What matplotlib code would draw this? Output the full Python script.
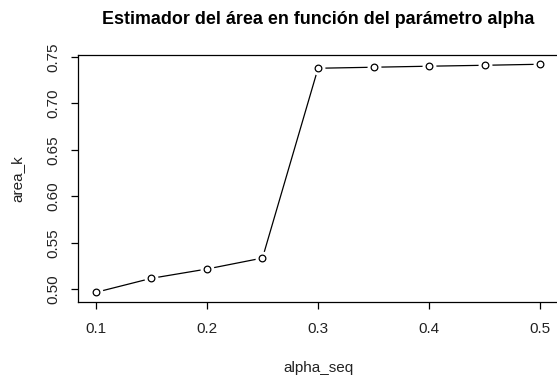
#
# Imports
#
from matplotlib import pyplot as plt
import numpy as np

#
# Data
#
alpha_seq = [0.10, 0.15, 0.20, 0.25, 0.30, 0.35, 0.40, 0.45, 0.50]
area_k = [0.4968, 0.5119, 0.5219, 0.5337, 0.7377, 0.7388, 0.7399, 0.7409, 0.7420]
x_ticks = [0.1, 0.2, 0.3, 0.4, 0.5]
y_ticks = [0.50, 0.55, 0.60, 0.65, 0.70, 0.75]

#
# main
#
if __name__ == "__main__":
    plt.rcParams['font.family'] = ['Liberation Sans', 'DejaVu Sans']
    txt = '#222222'
    fig = plt.figure(figsize=(5.57, 3.75), dpi=100)
    ax = fig.add_axes([0.140, 0.196, 0.862, 0.657])

    # R style "b": line with gaps round the points
    ax.plot(alpha_seq, area_k, '-', color='black', lw=0.9, zorder=1)
    ax.plot(alpha_seq, area_k, 'o', ms=10, mfc='white', mec='none', zorder=2)
    ax.plot(alpha_seq, area_k, 'o', ms=4.8, mfc='white', mec='black', mew=0.9, zorder=3)

    # R default axis extension (4%)
    xr = max(alpha_seq) - min(alpha_seq)
    yr = max(area_k) - min(area_k)
    ax.set_xlim(min(alpha_seq) - 0.04 * xr, max(alpha_seq) + 0.04 * xr)
    ax.set_ylim(min(area_k) - 0.04 * yr, max(area_k) + 0.04 * yr)

    ax.set_xticks(x_ticks)
    ax.set_xticklabels(['0.1', '0.2', '0.3', '0.4', '0.5'])
    ax.set_yticks(y_ticks)
    ax.set_yticklabels(['%.2f' % v for v in y_ticks], rotation=90, va='center')
    ax.tick_params(direction='out', length=5, width=0.9, labelsize=11,
                   color='black', labelcolor=txt, pad=8)
    ax.tick_params(axis='x', pad=10)
    for s in ax.spines.values():
        s.set_linewidth(0.9)

    ax.set_xlabel('alpha_seq', fontsize=11, color=txt, labelpad=18)
    ax.set_ylabel('area_k', fontsize=11, color=txt, labelpad=15.5)
    fig.text(0.572, 0.947, 'Estimador del área en función del parámetro alpha',
             ha='center', va='center', fontsize=12.9, fontweight='bold', color='black')
    #
    fig.savefig('out.png', dpi=100)
